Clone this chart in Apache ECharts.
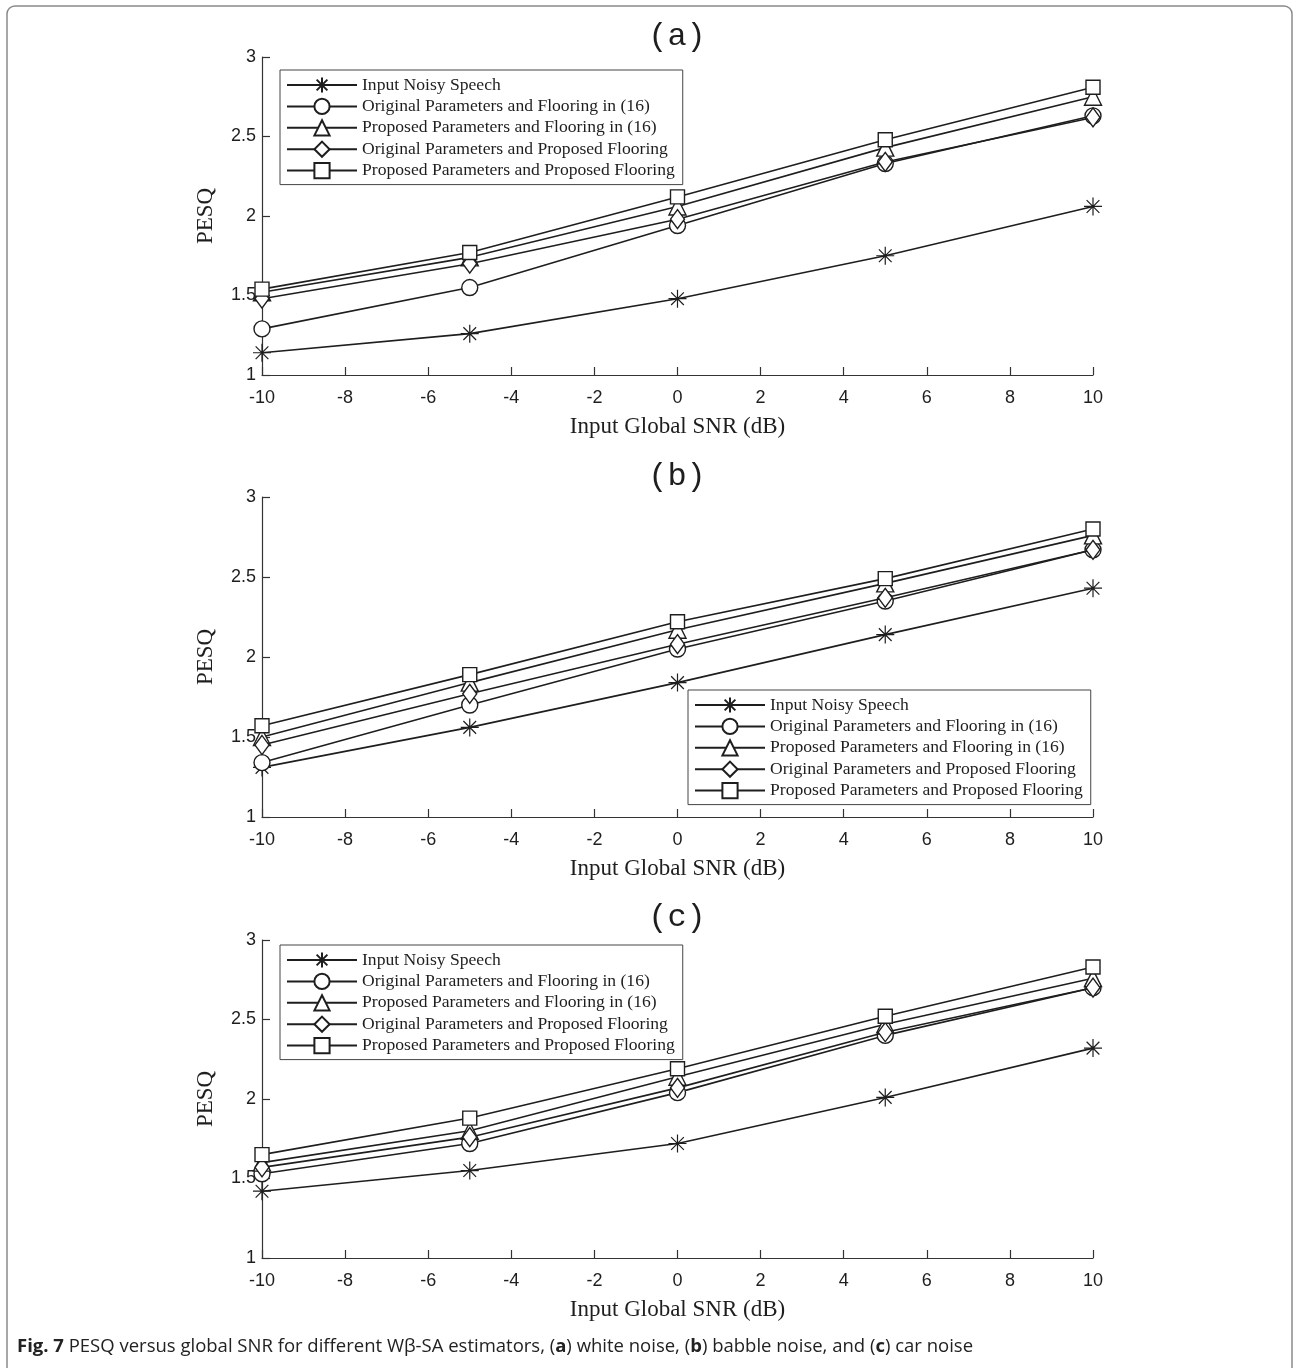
<!DOCTYPE html>
<html>
<head>
<meta charset="utf-8">
<script src="https://cdn.jsdelivr.net/npm/echarts@6/dist/echarts.min.js"></script>
<style>html,body{margin:0;padding:0;background:#fff}#c{width:1294px;height:1368px}</style>
</head>
<body>
<div id="c"></div>
<script>
// ---- data ----
const snr = [-10, -5, 0, 5, 10];
const seriesNames = [
  'Input Noisy Speech',
  'Original Parameters and Flooring in (16)',
  'Proposed Parameters and Flooring in (16)',
  'Original Parameters and Proposed Flooring',
  'Proposed Parameters and Proposed Flooring'
];
const panelTitles = ['(a)', '(b)', '(c)'];
const yTicks = [1, 1.5, 2, 2.5, 3];
const xTicks = [-10, -8, -6, -4, -2, 0, 2, 4, 6, 8, 10];

// (a) white noise
const a_noisy   = [1.14, 1.26, 1.48, 1.75, 2.06];
const a_origF16 = [1.29, 1.55, 1.94, 2.33, 2.63];
const a_propF16 = [1.52, 1.74, 2.06, 2.43, 2.75];
const a_origPF  = [1.48, 1.70, 1.98, 2.34, 2.62];
const a_propPF  = [1.54, 1.77, 2.12, 2.48, 2.81];
// (b) babble noise
const b_noisy   = [1.31, 1.56, 1.84, 2.14, 2.43];
const b_origF16 = [1.34, 1.70, 2.05, 2.35, 2.67];
const b_propF16 = [1.50, 1.84, 2.17, 2.46, 2.76];
const b_origPF  = [1.45, 1.77, 2.08, 2.37, 2.67];
const b_propPF  = [1.57, 1.89, 2.22, 2.49, 2.80];
// (c) car noise
const c_noisy   = [1.42, 1.55, 1.72, 2.01, 2.32];
const c_origF16 = [1.53, 1.72, 2.04, 2.40, 2.70];
const c_propF16 = [1.60, 1.80, 2.14, 2.47, 2.76];
const c_origPF  = [1.57, 1.76, 2.07, 2.42, 2.70];
const c_propPF  = [1.65, 1.88, 2.19, 2.52, 2.83];

const panels = [
  [a_noisy, a_origF16, a_propF16, a_origPF, a_propPF],
  [b_noisy, b_origF16, b_propF16, b_origPF, b_propPF],
  [c_noisy, c_origF16, c_propF16, c_origPF, c_propPF]
];

// ---- styles ----
const INK = '#1e1e1e';
const symbols = [
  'path://M0,-10L0,10M-10,0L10,0M-7.07,-7.07L7.07,7.07M-7.07,7.07L7.07,-7.07',
  'circle', 'triangle', 'diamond', 'rect'
];
const symbolSizes = [18, 16, 17, [14, 19], 14];

const gridTops = [57, 497, 940];
const gridHeights = [318, 320, 318];
const titleYs = [37, 477, 918];
const legendPos = [
  {left: 280, top: 70},
  {left: 688, top: 690},
  {left: 280, top: 945}
];

const grids = [], xAxes = [], yAxes = [], series = [], legends = [], graphics = [];
gridTops.forEach((t, i) => {
  grids.push({left: 262, right: 201, top: t, height: gridHeights[i]});
  xAxes.push({
    type: 'value', gridIndex: i, min: -10, max: 10, interval: 2,
    name: 'Input Global SNR (dB)', nameLocation: 'middle', nameGap: 40,
    nameTextStyle: {fontFamily: 'Liberation Serif', fontSize: 23, color: INK},
    axisLine: {show: true, onZero: false, lineStyle: {color: '#333', width: 1.2}},
    axisTick: {show: true, inside: true, length: 8, lineStyle: {color: '#333', width: 1.2}},
    axisLabel: {fontFamily: 'Liberation Sans', fontSize: 18, color: INK, margin: 14},
    splitLine: {show: false}
  });
  yAxes.push({
    type: 'value', gridIndex: i, min: 1, max: 3, interval: 0.5,
    name: 'PESQ', nameLocation: 'middle', nameGap: 45,
    nameTextStyle: {fontFamily: 'Liberation Serif', fontSize: 23, color: INK},
    axisLine: {show: true, onZero: false, lineStyle: {color: '#333', width: 1.2}},
    axisTick: {show: true, inside: true, length: 8, lineStyle: {color: '#333', width: 1.2}},
    axisLabel: {fontFamily: 'Liberation Sans', fontSize: 18, color: INK, margin: 6},
    splitLine: {show: false}
  });
  panels[i].forEach((vals, k) => {
    series.push({
      name: seriesNames[k], type: 'line', xAxisIndex: i, yAxisIndex: i,
      data: snr.map((x, j) => [x, vals[j]]),
      symbol: symbols[k], symbolSize: symbolSizes[k], showAllSymbol: true,
      lineStyle: {color: INK, width: 1.6},
      itemStyle: {color: k === 0 ? 'rgba(0,0,0,0)' : '#fff', borderColor: INK, borderWidth: k === 0 ? 1.2 : 1.4},
      emphasis: {disabled: true},
      animation: false, z: 2 + k
    });
  });
  legends.push({
    left: legendPos[i].left, top: legendPos[i].top, orient: 'vertical',
    data: seriesNames,
    itemWidth: 70, itemHeight: 19, itemGap: 3.4,
    backgroundColor: '#fff', borderColor: '#444', borderWidth: 1,
    padding: [6, 8, 5, 6],
    textStyle: {fontFamily: 'Liberation Serif', fontSize: 17.6, color: INK},
    selectedMode: false
  });
  graphics.push({
    type: 'text', x: 677, y: titleYs[i],
    style: {text: panelTitles[i], font: '32px "Liberation Mono"', fill: INK,
            textAlign: 'center', textVerticalAlign: 'middle'}
  });
});

graphics.push({
  type: 'rect', shape: {x: 7, y: 6, width: 1285, height: 1400, r: 8},
  style: {fill: 'none', stroke: '#8a8a8a', lineWidth: 1.5}, silent: true, z: -1
});
graphics.push({
  type: 'text', x: 17, y: 1347,
  style: {
    text: '{b|Fig. 7} PESQ versus global SNR for different W\u03B2-SA estimators, ({b|a}) white noise, ({b|b}) babble noise, and ({b|c}) car noise',
    rich: {b: {fontFamily: 'Open Sans', fontSize: 18.5, fontWeight: 'bold', fill: '#222'}},
    font: '18.5px "Open Sans"', fill: '#222', textVerticalAlign: 'middle'
  }
});

const chart = echarts.init(document.getElementById('c'));
chart.setOption({
  animation: false,
  backgroundColor: '#fff',
  grid: grids, xAxis: xAxes, yAxis: yAxes, series: series, legend: legends,
  graphic: graphics
});
</script>
</body>
</html>
